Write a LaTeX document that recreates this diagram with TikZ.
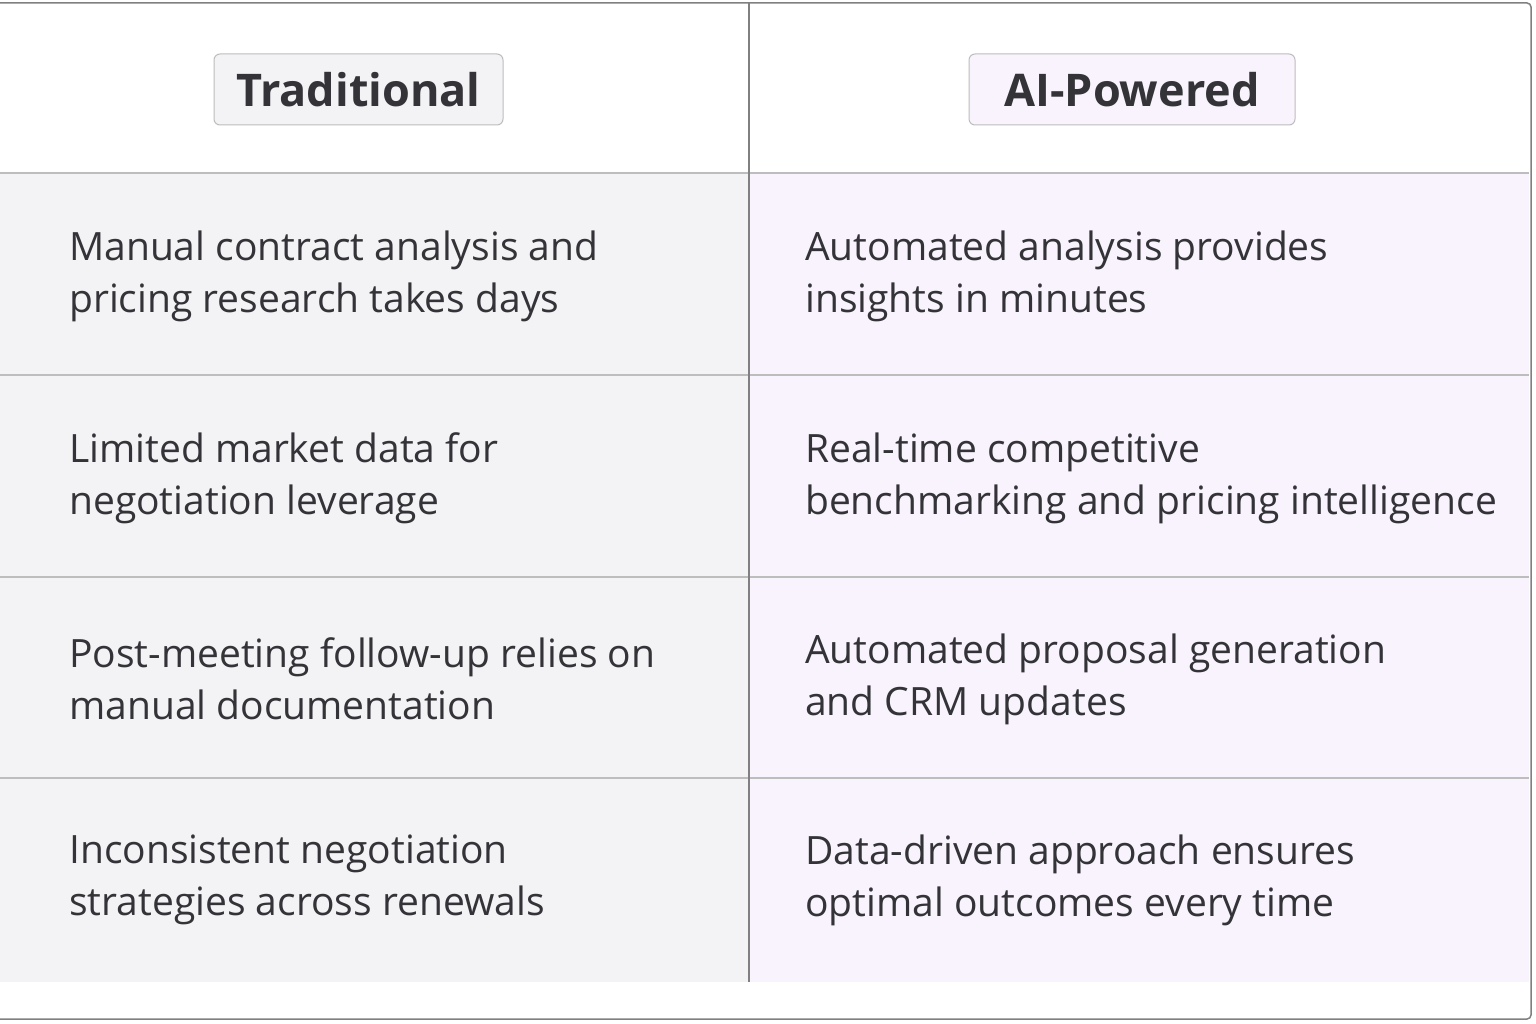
\documentclass[tikz,border=0pt]{standalone}
\usepackage{fontspec}
\setmainfont{Open Sans}
\definecolor{lgray}{HTML}{F3F3F6}
\definecolor{lav}{HTML}{F8F3FC}
\definecolor{linec}{HTML}{BDBDBD}
\definecolor{txt}{HTML}{333338}
\tikzset{x=1pt,y=-1pt,
 cell/.style={anchor=west,align=left,font=\fontsize{39}{52}\selectfont,text=txt,inner sep=0pt},
 pill/.style={draw=linec,line width=1pt,rounded corners=6pt,minimum height=71pt,font=\fontsize{45}{50}\selectfont\bfseries,text=txt}}
\begin{document}
\begin{tikzpicture}
\useasboundingbox (0,0) rectangle (1536,1024);
\fill[white] (0,0) rectangle (1536,1024);
\fill[lgray] (0,173) rectangle (749,982);
\fill[lav] (749,173) rectangle (1529,982);
\foreach \y in {173,375,577,778} \draw[linec,line width=1.2pt] (0,\y) -- (1529,\y);
\draw[gray,line width=1.2pt] (749,3) -- (749,982);
\draw[gray,line width=1.5pt,rounded corners=4pt] (0,3) -- (1531,3) -- (1531,1019) -- (0,1019);
\node[pill,fill=lgray,minimum width=289pt] (h1) at (358.5,89.5) {\raisebox{-2pt}{Traditional}};
\node[pill,fill=lav,minimum width=326pt] (h2) at (1132,89.5) {\raisebox{-2pt}{AI-Powered}};
\node[cell] (l1) at (69,276) {Manual contract analysis and\\pricing research takes days};
\node[cell] (l2) at (69,478) {Limited market data for\\negotiation leverage};
\node[cell] (l3) at (69,679) {Post-meeting follow-up relies on\\manual documentation};
\node[cell] (l4) at (69,880) {Inconsistent negotiation\\strategies across renewals};
\node[cell] (r1) at (805,276) {Automated analysis provides\\insights in minutes};
\node[cell] (r2) at (805,478) {Real-time competitive\\benchmarking and pricing intelligence};
\node[cell] (r3) at (805,679) {Automated proposal generation\\and CRM updates};
\node[cell] (r4) at (805,880) {Data-driven approach ensures\\optimal outcomes every time};
\end{tikzpicture}
\end{document}
